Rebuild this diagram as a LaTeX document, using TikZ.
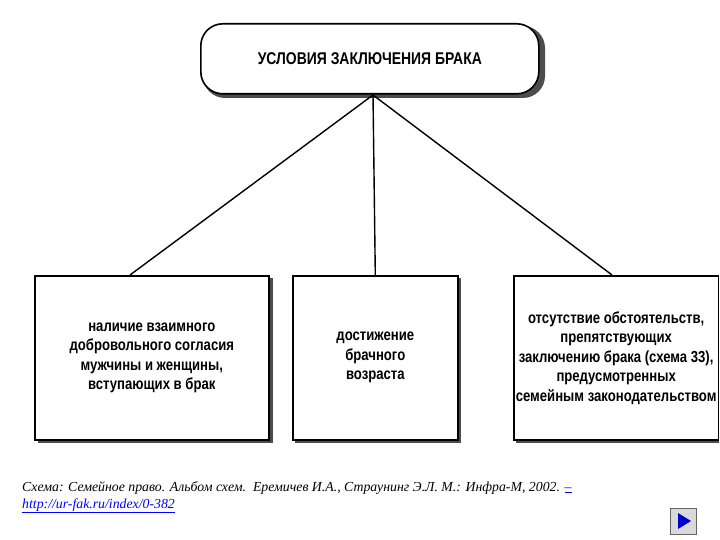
\documentclass[tikz,border=0pt]{standalone}
\usepackage{fontspec}
\setmainfont{Liberation Serif}
\newfontfamily\boxfont[FakeStretch=0.82]{Liberation Sans}
\begin{document}
\begin{tikzpicture}[x=1pt,y=-1pt,
  box/.style={draw,line width=1.6pt,fill=white,align=center,font=\boxfont\bfseries\fontsize{16}{19.5}\selectfont,inner sep=2pt}]
\useasboundingbox (0,0) rectangle (720,540);
\fill[white] (0,0) rectangle (720,540);
% top
\fill[black!70,rounded corners=22pt] (203,26) rectangle (545,98);
\node[box,rounded corners=22pt,minimum width=338pt,minimum height=70pt,anchor=north west,font=\boxfont\bfseries\fontsize{17}{19}\selectfont] (top) at (200,23) {УСЛОВИЯ ЗАКЛЮЧЕНИЯ БРАКА};
% bottom boxes
\fill[black!70] (38,278) rectangle (273,443);
\node[box,minimum width=234pt,minimum height=164pt,anchor=north west] (b1) at (34,275) {наличие взаимного\\добровольного согласия\\мужчины и женщины,\\вступающих в брак};
\fill[black!70] (295,278) rectangle (461,443);
\node[box,minimum width=165pt,minimum height=164pt,anchor=north west] (b2) at (292,275) {достижение\\брачного\\возраста};
\fill[black!70] (516,278) rectangle (719,443);
\node[box,minimum width=202pt,minimum height=164pt,anchor=north west] (b3) at (513,275) {отсутствие обстоятельств,\\препятствующих\\заключению брака (схема 33),\\предусмотренных\\семейным законодательством};
\coordinate (o) at (373,95);
\draw[line width=1.4pt] (o) -- (130,275) (o) -- (b2.north) (o) -- (612,275);
% caption
\node[anchor=north west,align=left,font=\itshape\fontsize{13.8}{17}\selectfont,inner sep=0pt] (cap) at (22,481) {Схема: Семейное право. Альбом схем.\ \ Еремичев И.А., Страунинг Э.Л. М.: Инфра-М, 2002. \textcolor{blue}{\underline{–}}\\\textcolor{blue}{\underline{http://ur-fak.ru/index/0-382}}};
% button
\draw[fill=black!15,draw=black!60] (670,508) rectangle (696,534);
\fill[blue!80!black] (678,513) -- (691,521) -- (678,529) -- cycle;
\end{tikzpicture}
\end{document}
